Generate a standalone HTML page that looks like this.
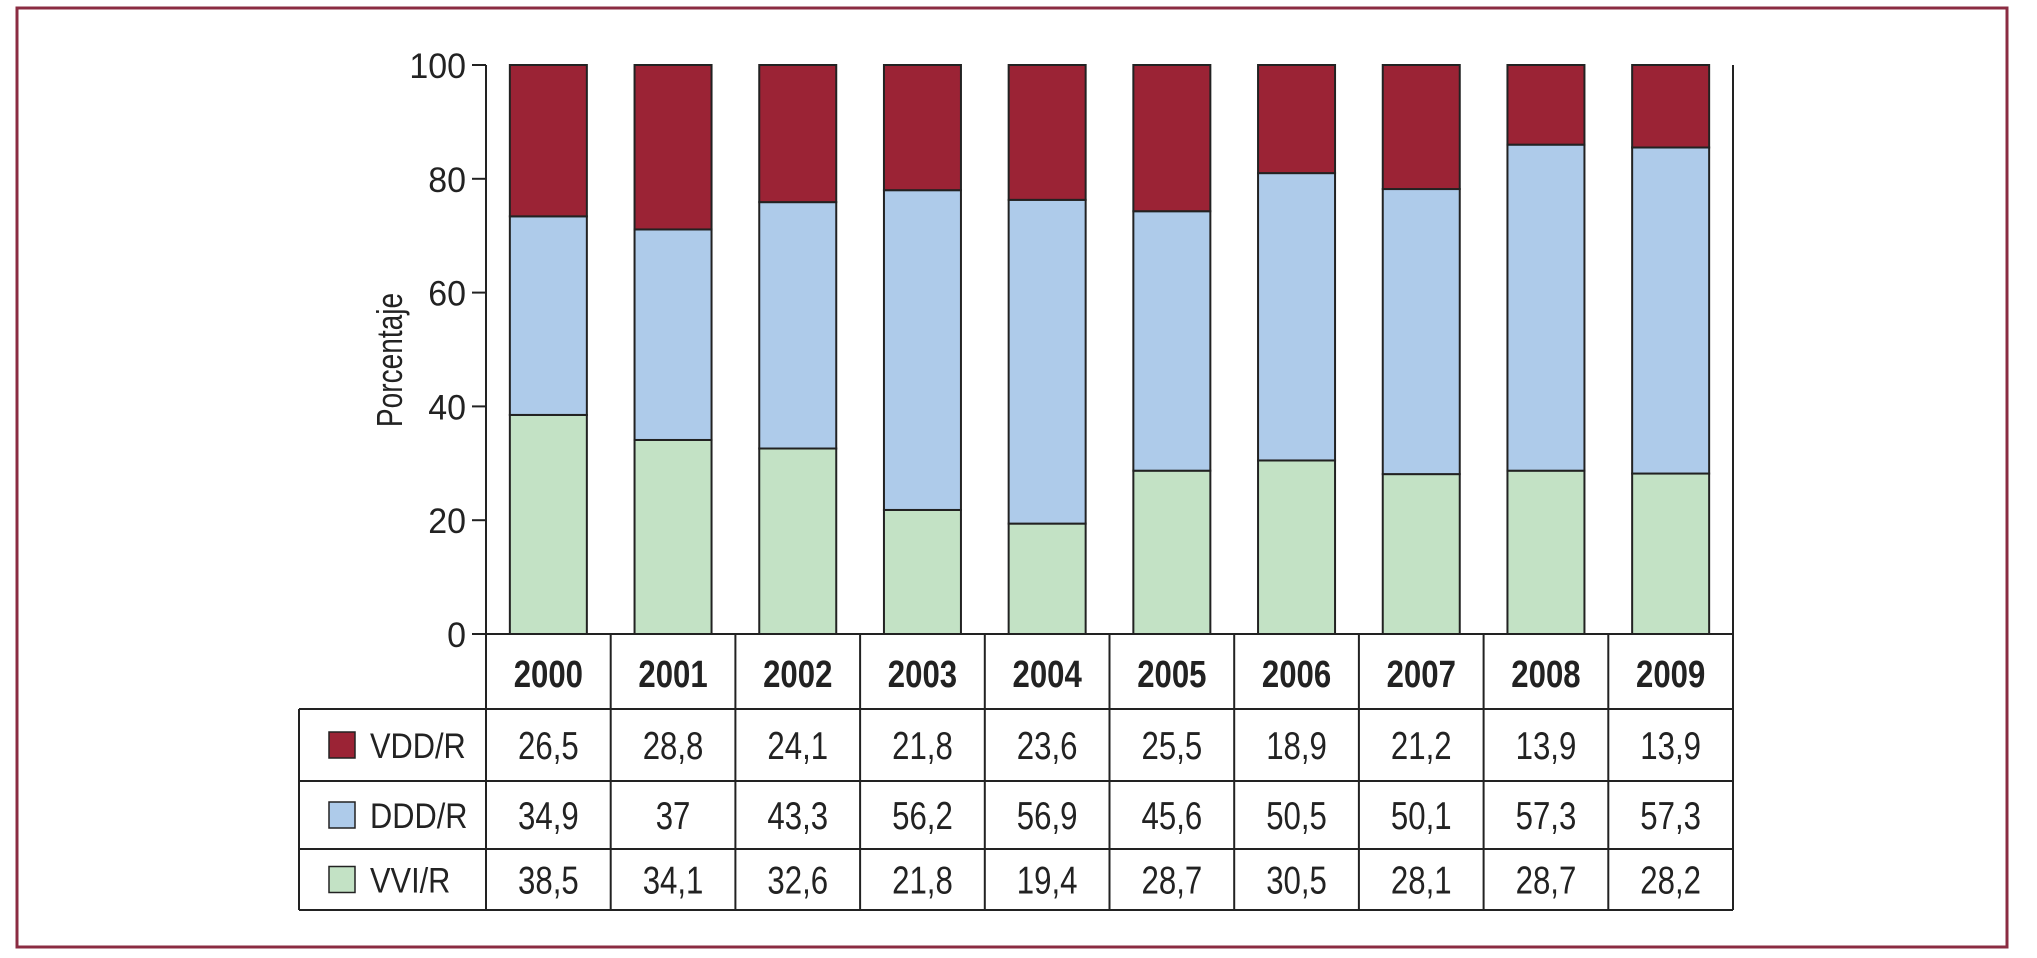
<!DOCTYPE html>
<html><head><meta charset="utf-8"><style>
html,body{margin:0;padding:0;background:#fff;}
svg{display:block;}
.t{font-family:"Liberation Sans",sans-serif;}
.n{font-family:"Liberation Sans Narrow","Liberation Sans",sans-serif;}
</style></head><body>
<svg id="chart" width="2037" height="958" viewBox="0 0 2037 958" xmlns="http://www.w3.org/2000/svg">
<rect x="17" y="8" width="1990" height="939" fill="none" stroke="#8b2c42" stroke-width="3"/>
<g id="g"></g>
</svg>
<script>
const years = ["2000","2001","2002","2003","2004","2005","2006","2007","2008","2009"];
const vvi = [38.5,34.1,32.6,21.8,19.4,28.7,30.5,28.1,28.7,28.2];
const ddd = [34.9,37,43.3,56.2,56.9,45.6,50.5,50.1,57.3,57.3];
const vdd = [26.5,28.8,24.1,21.8,23.6,25.5,18.9,21.2,13.9,13.9];
const vviLabels = ["38,5","34,1","32,6","21,8","19,4","28,7","30,5","28,1","28,7","28,2"];
const dddLabels = ["34,9","37","43,3","56,2","56,9","45,6","50,5","50,1","57,3","57,3"];
const vddLabels = ["26,5","28,8","24,1","21,8","23,6","25,5","18,9","21,2","13,9","13,9"];
const yTicks = [0,20,40,60,80,100];

const NS="http://www.w3.org/2000/svg";
const g=document.getElementById('g');
const X0=486, X1=1733, Y0=634, Y100=65;
const colW=(X1-X0)/years.length, barW=77;
const y=v=>Y0-(v/100)*(Y0-Y100);
const xCol=i=>X0+i*colW;
function mk(tag,attrs,parent){const e=document.createElementNS(NS,tag);for(const k in attrs)e.setAttribute(k,attrs[k]);(parent||g).appendChild(e);return e;}
// condensed text: scale horizontally around anchor x
function ctext(x,yy,str,size,sx,anchor,weight){
  const t=mk('text',{x:0,y:0,'text-anchor':anchor,'font-size':size,fill:'#222',class:'t',transform:`translate(${x},${yy}) scale(${sx},1)`});
  if(weight)t.setAttribute('font-weight',weight);
  t.textContent=str;
  return t;
}

let ax=mk('line',{x1:X0,y1:Y100,x2:X0,y2:910,stroke:'#222','stroke-width':2});


let rl=mk('line',{x1:X1,y1:Y100,x2:X1,y2:910,stroke:'#222','stroke-width':2});


yTicks.forEach(t=>{
  let l=mk('line',{x1:472,y1:y(t),x2:X0,y2:y(t),stroke:'#222','stroke-width':2});
  
  
  let tx=ctext(466,y(t)+13,String(t),35,0.97,'end');
  
  
});
let yt=mk('text',{x:0,y:0,'text-anchor':'middle','font-size':36,fill:'#222',class:'t',transform:'translate(402,360) rotate(-90) scale(0.78,1)'});
yt.textContent='Porcentaje';



const series=[{v:vvi,c:'#c3e2c5',n:'vvi'},{v:ddd,c:'#aecbea',n:'ddd'},{v:vdd,c:'#9b2335',n:'vdd'}];
years.forEach((yr,i)=>{
  let base=0;
  const bx=xCol(i)+(colW-barW)/2;
  series.forEach(s=>{
    const top=(s.n==='vdd')?100:base+s.v[i];
    const r=mk('rect',{x:bx,y:y(top),width:barW,height:y(base)-y(top),fill:s.c,stroke:'#222','stroke-width':2});
    
    
    base=top;
  });
});

const rowsY=[634,709,781,849,910];
function L(x1,y1,x2,y2,name){const l=mk('line',{x1,y1,x2,y2,stroke:'#222','stroke-width':2});}
L(X0,634,X1,634,'table-top-line');
for(let r=1;r<rowsY.length;r++)L(299,rowsY[r],X1,rowsY[r],'table-row-line');
L(299,709,299,910,'table-left-line');
for(let i=1;i<years.length;i++)L(xCol(i),634,xCol(i),910,'table-col-line');
years.forEach((yr,i)=>{
  const t=ctext(xCol(i)+colW/2,687,yr,38,0.82,'middle','bold');
  
  
});
const rowDefs=[{name:'VDD/R',c:'#9b2335',lab:vddLabels},{name:'DDD/R',c:'#aecbea',lab:dddLabels},{name:'VVI/R',c:'#c3e2c5',lab:vviLabels}];
rowDefs.forEach((rd,r)=>{
  const cy=(rowsY[r+1]+rowsY[r+2])/2;
  const sw=mk('rect',{x:329,y:cy-13,width:26,height:26,fill:rd.c,stroke:'#222','stroke-width':1.5});
  
  
  const lt=ctext(370,cy+13,rd.name,35,0.88,'start');
  
  
  rd.lab.forEach((v,i)=>{
    const t=ctext(xCol(i)+colW/2,cy+14,v,39,0.8,'middle');
    
    
  });
});
</script>
</body></html>
